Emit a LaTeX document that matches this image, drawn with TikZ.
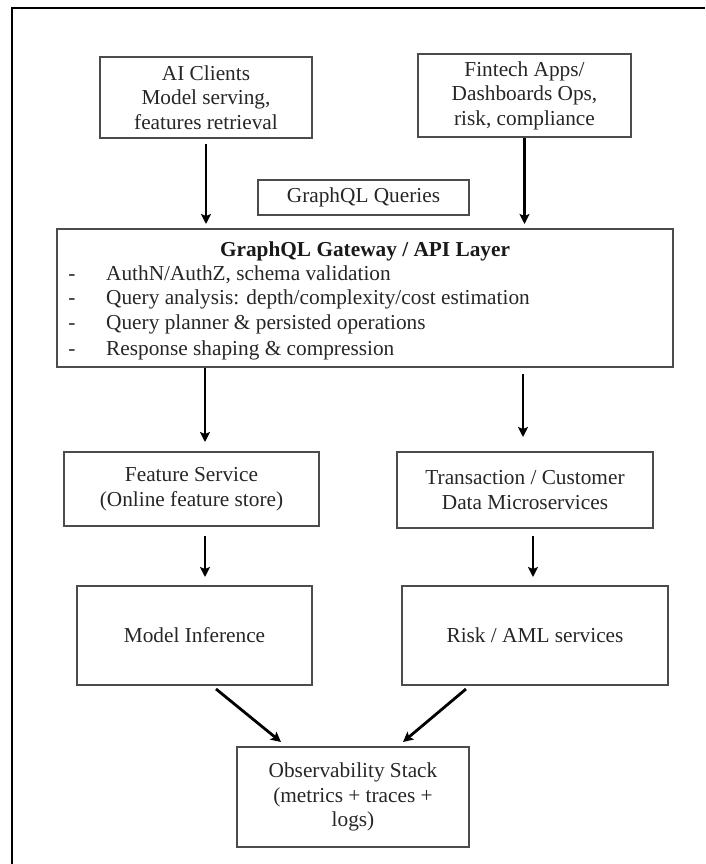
\documentclass[tikz,border=0pt]{standalone}
\usepackage{fontspec}
\setmainfont{Liberation Serif}
\usetikzlibrary{arrows.meta}
\begin{document}
\begin{tikzpicture}[x=1pt,y=-1pt,
  box/.style={draw=black!70, line width=2pt, align=center, inner sep=0pt, text=black!85, font=\fontsize{21.3}{24.5}\selectfont},
  arr/.style={draw=black, line width=2.8pt, -{Stealth[length=10pt,width=10pt,inset=2pt]}},
  txt/.style={inner sep=0pt, text=black!85, font=\fontsize{21.3}{24.5}\selectfont},
  ttl/.style={inner sep=0pt, text=black!90, font=\bfseries\fontsize{21.3}{24.5}\selectfont}]
\useasboundingbox (0,0) rectangle (705,864);
\draw[line width=2.2pt] (12,864) -- (12,8) -- (705,8);

\node[box, minimum width=212, minimum height=81] (ai) at (206,97.5) {AI Clients\\Model serving,\\features retrieval};
\node[box, minimum width=213, minimum height=83] (fa) at (524.5,95.5) {Fintech Apps/\\Dashboards Ops,\\risk, compliance};
\node[box, minimum width=211, minimum height=35] (gq) at (363.5,197.5) {GraphQL Queries};
\node[box, minimum width=616, minimum height=138] (gw) at (365,298) {};
\node[box, minimum width=255, minimum height=74] (fs) at (191.5,489) {Feature Service\\(Online feature store)};
\node[box, minimum width=256, minimum height=76] (tx) at (525,490) {Transaction / Customer\\Data Microservices};
\node[box, minimum width=235, minimum height=99] (mi) at (194.5,635.5) {Model Inference};
\node[box, minimum width=266, minimum height=99] (rk) at (535,635.5) {Risk / AML services};
\node[box, minimum width=232, minimum height=100] (ob) at (353,797) {Observability Stack\\(metrics + traces +\\logs)};

\node[ttl, anchor=base] (gwt) at (365,256) {GraphQL Gateway / API Layer};
\node[txt, anchor=base] (d1) at (72,280) {-};
\node[txt, anchor=base west] (i1) at (106,280) {AuthN/AuthZ, schema validation};
\node[txt, anchor=base] (d2) at (72,304) {-};
\node[txt, anchor=base west] (i2) at (106,304) {Query analysis: depth/complexity/cost estimation};
\node[txt, anchor=base] (d3) at (72,329) {-};
\node[txt, anchor=base west] (i3) at (106,329) {Query planner \& persisted operations};
\node[txt, anchor=base] (d4) at (72,355) {-};
\node[txt, anchor=base west] (i4) at (106,355) {Response shaping \& compression};

\draw[arr, shorten <=5pt, shorten >=4pt] (ai.south) -- (ai.south |- gw.north);
\draw[arr, shorten >=4pt] (fa.south) -- (fa.south |- gw.north);
\draw[arr, shorten >=9pt] ([xshift=-160pt]gw.south) -- ([xshift=-160pt]gw.south |- fs.north);
\draw[arr, shorten <=6pt, shorten >=14pt] ([xshift=158pt]gw.south) -- ([xshift=158pt]gw.south |- tx.north);
\draw[arr, shorten <=9pt, shorten >=8pt] ([xshift=13.5pt]fs.south) -- ([xshift=13.5pt]fs.south |- mi.north);
\draw[arr, shorten <=7pt, shorten >=8pt] ([xshift=8pt]tx.south) -- ([xshift=8pt]tx.south |- rk.north);
\draw[arr] ([xshift=21.5pt,yshift=-3pt]mi.south) -- ([xshift=-72pt,yshift=4pt]ob.north);
\draw[arr] ([xshift=-69pt,yshift=-3pt]rk.south) -- ([xshift=50pt,yshift=4pt]ob.north);
\end{tikzpicture}
\end{document}
